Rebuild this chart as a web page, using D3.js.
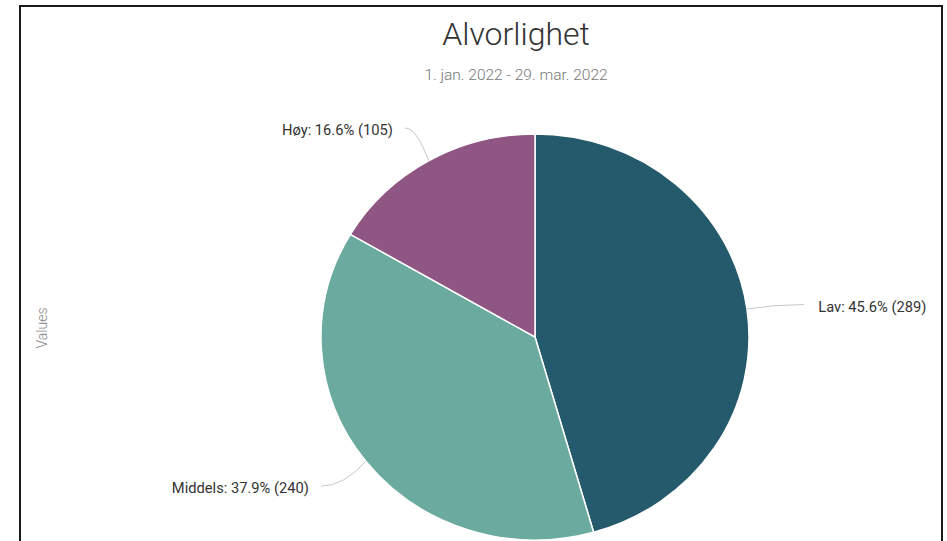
<!DOCTYPE html>
<html>
<head>
<meta charset="utf-8">
<script src="https://cdn.jsdelivr.net/npm/d3@7"></script>
<style>
  html, body { margin: 0; padding: 0; background: #fff; }
  svg { display: block; font-family: Roboto, "Noto Sans", sans-serif; }
</style>
</head>
<body>
<svg id="chart" width="947" height="541"></svg>
<script>
// data
const categories = ['Lav', 'Middels', 'Høy'];
const counts = [289, 240, 105];
const percents = ['45.6%', '37.9%', '16.6%'];
const colors = ['#245a6c', '#6bab9f', '#8f5583'];

const title = 'Alvorlighet';
const subtitle = '1. jan. 2022 - 29. mar. 2022';
const axisTitle = 'Values';

const W = 947, H = 541;
const cx = 535, cy = 337;
const rx = 214, ry = 203;          // pie is drawn slightly squashed in the reference
const labelRx = 286, labelRy = 242;

const svg = d3.select('#chart');

// frame
svg.append('rect')
    .attr('x', 20).attr('y', 6)
    .attr('width', 922).attr('height', H + 10)
    .attr('fill', 'none')
    .attr('stroke', '#1a1a1a')
    .attr('stroke-width', 2);

// titles
svg.append('text')
    .attr('x', 516).attr('y', 45)
    .attr('text-anchor', 'middle')
    .attr('font-size', 32)
    .attr('font-weight', 300)
    .attr('fill', '#333')
    .text(title);

svg.append('text')
    .attr('x', 516).attr('y', 80)
    .attr('text-anchor', 'middle')
    .attr('font-size', 15.5)
    .attr('font-weight', 300)
    .attr('fill', '#777')
    .text(subtitle);

svg.append('text')
    .attr('transform', 'translate(47,328) rotate(-90)')
    .attr('text-anchor', 'middle')
    .attr('font-size', 14)
    .attr('font-weight', 300)
    .attr('fill', '#888')
    .text(axisTitle);

// pie
let data = categories.map((c, i) => ({name: c, value: counts[i], pct: percents[i], color: colors[i]}));
let pie = d3.pie().sort(null).value(d => d.value);
let arcs = pie(data);
let arc = d3.arc().innerRadius(0).outerRadius(rx);

svg.append('g')
    .attr('transform', `translate(${cx},${cy}) scale(1,${ry / rx})`)
    .selectAll('path')
    .data(arcs)
    .enter().append('path')
    .attr('d', arc)
    .attr('fill', d => d.data.color)
    .attr('stroke', '#fff')
    .attr('stroke-width', 1.5)
    .attr('vector-effect', 'non-scaling-stroke');

// labels + soft connectors
let lab = svg.append('g');
arcs.forEach(d => {
    let a = (d.startAngle + d.endAngle) / 2;
    let sx = Math.sin(a), sy = -Math.cos(a);
    let right = sx > 0;
    let edge = [cx + sx * rx, cy + sy * ry];
    let lx = cx + sx * labelRx, ly = cy + sy * labelRy + 3;
    let conEnd = [lx + (right ? -14 : 12), ly - 2];
    let ctrl = [conEnd[0] + (edge[0] - conEnd[0]) * 0.5, conEnd[1]];

    lab.append('path')
        .attr('d', `M${conEnd[0]},${conEnd[1]} Q${ctrl[0]},${ctrl[1]} ${edge[0]},${edge[1]}`)
        .attr('fill', 'none')
        .attr('stroke', '#c8c8c8')
        .attr('stroke-width', 1);

    lab.append('text')
        .attr('x', lx)
        .attr('y', ly + 5)
        .attr('text-anchor', right ? 'start' : 'end')
        .attr('font-size', 14.7)
        .attr('fill', '#333')
        .text(`${d.data.name}: ${d.data.pct} (${d.data.value})`);
});
</script>
</body>
</html>
